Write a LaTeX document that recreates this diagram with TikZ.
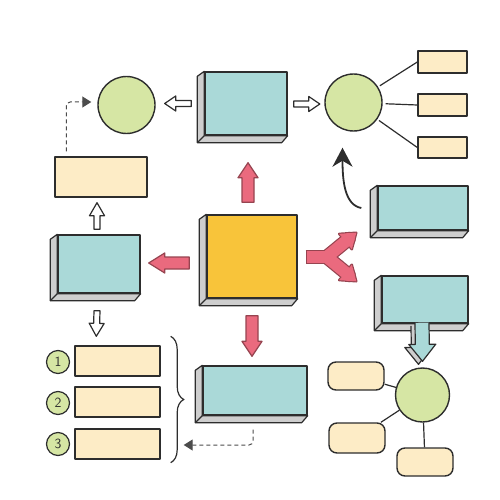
\documentclass[tikz,border=0pt]{standalone}
\usetikzlibrary{calc,arrows.meta,decorations.pathreplacing}
\definecolor{ink}{RGB}{45,45,45}
\definecolor{tealb}{RGB}{170,217,216}
\definecolor{cream}{RGB}{253,236,198}
\definecolor{yel}{RGB}{248,196,58}
\definecolor{grn}{RGB}{214,230,164}
\definecolor{pinkf}{RGB}{234,106,126}
\definecolor{pinkd}{RGB}{150,68,80}
\definecolor{sidegray}{RGB}{206,206,206}
\newcommand{\fatarrow}[8]{%
  \coordinate (fa-b) at ($(#4)!#7!(#3)$);
  \coordinate (fa-s1) at ($(#3)!#5!90:(#4)$);
  \coordinate (fa-s2) at ($(#3)!#5!-90:(#4)$);
  \coordinate (fa-b1) at ($(fa-b)!#5!90:(#4)$);
  \coordinate (fa-b2) at ($(fa-b)!#5!-90:(#4)$);
  \coordinate (fa-h1) at ($(fa-b)!#6!90:(#4)$);
  \coordinate (fa-h2) at ($(fa-b)!#6!-90:(#4)$);
  \fill[fill=#1] (fa-s1) -- (fa-b1) -- (fa-h1) -- (#4) -- (fa-h2) -- (fa-b2) -- (fa-s2) -- cycle;
  \draw[#2] (fa-s1) -- (fa-b1) -- (fa-h1) -- (#4) -- (fa-h2) -- (fa-b2) -- (fa-s2) #8;
}
\newcommand{\boxside}[1]{%
  \draw[sideface] (#1.north west) -- ($(#1.north west)+(-7,5)$) -- ($(#1.south west)+(-7,7)$)
    -- ($(#1.south east)+(-6,7)$) -- (#1.south east) -- (#1.south west) -- cycle;
  \draw[sideface] (#1.south west) -- ($(#1.south west)+(-7,7)$);
}
\tikzset{
  ol/.style={draw=ink, line width=1.4pt, line join=round},
  bluef/.style={ol, rectangle, inner sep=0pt, fill=tealb},
  yellowf/.style={ol, rectangle, inner sep=0pt, fill=yel},
  creamb/.style={ol, rectangle, inner sep=0pt, fill=cream},
  roundcream/.style={creamb, rounded corners=8pt},
  circ/.style={ol, circle, inner sep=0pt, fill=grn},
  numc/.style={draw=ink, line width=1.2pt, circle, inner sep=0pt, fill=grn, minimum size=23pt,
    text=ink, font=\sffamily\fontsize{14}{14}\selectfont},
  sideface/.style={draw=ink, line width=1.2pt, line join=round, fill=sidegray},
  link/.style={draw=ink, line width=1.2pt},
  hollowline/.style={draw=ink, line width=1.2pt, line join=round},
  pinkline/.style={draw=pinkd, line width=1.2pt, line join=round},
  blueline/.style={draw=ink, line width=1.2pt, line join=round},
  dashlink/.style={draw=ink!85, line width=1pt, dash pattern=on 4pt off 3pt, rounded corners=4pt,
    -{Triangle[length=9pt,width=11pt]}},
  curvelink/.style={draw=ink, line width=1.8pt, -{Stealth[length=19pt,width=20pt,inset=6pt]}},
}
\begin{document}
\begin{tikzpicture}[x=1pt,y=-1pt]
\useasboundingbox (0,0) rectangle (500,500);
% ---------- 3D boxes ----------
\node[bluef, minimum width=82pt, minimum height=63pt] (tb) at (246,103.5) {};
\boxside{tb}
\node[bluef, minimum width=82pt, minimum height=58pt] (lb) at (99,264) {};
\boxside{lb}
\node[yellowf, minimum width=90pt, minimum height=83pt] (yc) at (252,256.5) {};
\boxside{yc}
\node[bluef, minimum width=104pt, minimum height=49pt] (bb) at (255,390.5) {};
\boxside{bb}
\node[bluef, minimum width=90pt, minimum height=44pt] (rb1) at (423,208) {};
\boxside{rb1}
\node[bluef, minimum width=86pt, minimum height=47pt] (rb2) at (425,299.5) {};
\boxside{rb2}
% ---------- circles ----------
\node[circ, minimum size=57pt] (gc1) at (126.5,105) {};
\node[circ, minimum size=57pt] (gc2) at (353.5,102.5) {};
\node[circ, minimum size=54pt] (gc3) at (422.5,395) {};
% ---------- cream boxes ----------
\node[creamb, minimum width=92pt, minimum height=40pt] (lc) at (101,177) {};
\node[creamb, minimum width=49pt, minimum height=22pt] (r1) at (442.5,62) {};
\node[creamb, minimum width=49pt, minimum height=22pt] (r2) at (442.5,105) {};
\node[creamb, minimum width=49pt, minimum height=21pt] (r3) at (442.5,147.5) {};
\node[creamb, minimum width=85pt, minimum height=30pt] (l1) at (117.5,361) {};
\node[creamb, minimum width=85pt, minimum height=30pt] (l2) at (117.5,402) {};
\node[creamb, minimum width=85pt, minimum height=30pt] (l3) at (117.5,444) {};
\node[numc] (n1) at (58,362) {1};
\node[numc] (n2) at (58,403) {2};
\node[numc] (n3) at (58,444) {3};
\node[roundcream, minimum width=56pt, minimum height=28pt] (ra) at (356,376) {};
\node[roundcream, minimum width=56pt, minimum height=30pt] (rbx) at (357,438) {};
\node[roundcream, minimum width=56pt, minimum height=28pt] (rc) at (425,462) {};
% ---------- plain links ----------
\draw[link, shorten <=2pt] (gc2) -- (r1.west);
\draw[link, shorten <=3pt] (gc2) -- (r2.west);
\draw[link, shorten <=2pt] (gc2) -- (r3.west);
\draw[link] (ra) -- (gc3);
\draw[link] (rbx) -- (gc3);
\draw[link] (gc3) -- (rc);
% ---------- hollow arrows ----------
\coordinate (h1a) at ($(tb.west)+(-13,0)$);
\coordinate (h1b) at ($(gc1.east)+(9,-1.5)$);
\fatarrow{white}{hollowline}{h1a}{h1b}{3pt}{7.5pt}{11pt}{-- cycle}
\coordinate (h2a) at ($(tb.east)+(6,0.5)$);
\coordinate (h2b) at ($(gc2.west)+(-4.5,1.5)$);
\fatarrow{white}{hollowline}{h2a}{h2b}{3pt}{7.5pt}{11pt}{-- cycle}
\coordinate (h3a) at ($(lb.north)+(-2,-5)$);
\coordinate (h3b) at ($(lc.south)+(-4,5)$);
\fatarrow{white}{hollowline}{h3a}{h3b}{3pt}{7.5pt}{13pt}{-- cycle}
\coordinate (h4a) at ($(lb.south)+(-2,17)$);
\coordinate (h4b) at ($(l1.north west)+(22,-9)$);
\fatarrow{white}{hollowline}{h4a}{h4b}{3pt}{7.5pt}{13pt}{-- cycle}
% ---------- pink arrows ----------
\coordinate (pu1) at ($(yc.north)+(-4,-12)$);
\coordinate (pu2) at ($(tb.south)+(2,27)$);
\fatarrow{pinkf}{pinkline}{pu1}{pu2}{6pt}{10pt}{15pt}{-- cycle}
\coordinate (pl1) at ($(yc.west)+(-17,6.5)$);
\coordinate (pl2) at ($(lb.east)+(8,-1)$);
\fatarrow{pinkf}{pinkline}{pl1}{pl2}{6pt}{10pt}{16pt}{-- cycle}
\coordinate (pd1) at ($(yc.south)+(0,17)$);
\coordinate (pd2) at ($(bb.north)+(-3,-9)$);
\fatarrow{pinkf}{pinkline}{pd1}{pd2}{6pt}{10pt}{15pt}{-- cycle}
% Y-shaped split arrow
\coordinate (ys) at ($(yc.east)+(9,0.5)$);
\coordinate (ysx) at ($(ys)+(-1.2,0)$);
\coordinate (yj) at ($(ys)+(20,0)$);
\coordinate (yt1) at ($(rb1.south west)+(-21,2)$);
\coordinate (yt2) at ($(rb2.north west)+(-25,6)$);
\coordinate (yb1) at ($(yt1)!14pt!(yj)$);
\coordinate (yb2) at ($(yt2)!14pt!(yj)$);
\coordinate (yi1) at ($(yt1)!10pt!(yj)$);
\coordinate (yi2) at ($(yt2)!10pt!(yj)$);
\coordinate (y1a) at ($(yb1)!10pt!90:(yt1)$);
\coordinate (y1b) at ($(yb1)!10pt!-90:(yt1)$);
\coordinate (y2a) at ($(yb2)!10pt!90:(yt2)$);
\coordinate (y2b) at ($(yb2)!10pt!-90:(yt2)$);
\draw[pinkd, line width=14.4pt] (ysx) -- (yj);
\draw[pinkd, line width=14.4pt, line cap=round] (yj) -- (yi1);
\draw[pinkd, line width=14.4pt, line cap=round] (yj) -- (yi2);
\filldraw[pinkd, line width=2.4pt, line join=round] (y1a) -- (yt1) -- (y1b) -- cycle;
\filldraw[pinkd, line width=2.4pt, line join=round] (y2a) -- (yt2) -- (y2b) -- cycle;
\draw[pinkf, line width=12pt] (ys) -- (yj);
\draw[pinkf, line width=12pt, line cap=round] (yj) -- (yi1);
\draw[pinkf, line width=12pt, line cap=round] (yj) -- (yi2);
\fill[pinkf] (y1a) -- (yt1) -- (y1b) -- cycle;
\fill[pinkf] (y2a) -- (yt2) -- (y2b) -- cycle;
% ---------- blue down arrow from rb2 to gc3 ----------
\coordinate (ba1) at ($(rb2.south)+(-3,-1)$);
\coordinate (ba2) at ($(gc3.north)+(0,-6)$);
\coordinate (bg1) at ($(ba1)+(-4,3)$);
\coordinate (bg2) at ($(ba2)+(-4,3)$);
\fatarrow{sidegray}{blueline}{bg1}{bg2}{7pt}{13.5pt}{17pt}{}
\fatarrow{tealb}{blueline}{ba1}{ba2}{7pt}{13.5pt}{17pt}{}
% ---------- curved arrow ----------
\draw[curvelink] ($(rb1.west)+(-16,0)$) .. controls +(-17,-3) and +(0,32) .. ($(gc2.south)+(-11,16)$);
% ---------- dashed arrows ----------
\draw[dashlink] ($(lc.north west)+(12,-5)$) |- ($(gc1.west)+(-6,-3)$);
\coordinate (dashend) at ($(l3.east)+(23,1)$);
\draw[dashlink] ($(bb.south)+(-2,14)$) |- (dashend);
% ---------- brace ----------
\draw[link, decorate, decoration={brace, amplitude=13pt}] ($(l1.north east)+(10,-9)$) -- ($(l3.south east)+(10,3)$);
\end{tikzpicture}
\end{document}
